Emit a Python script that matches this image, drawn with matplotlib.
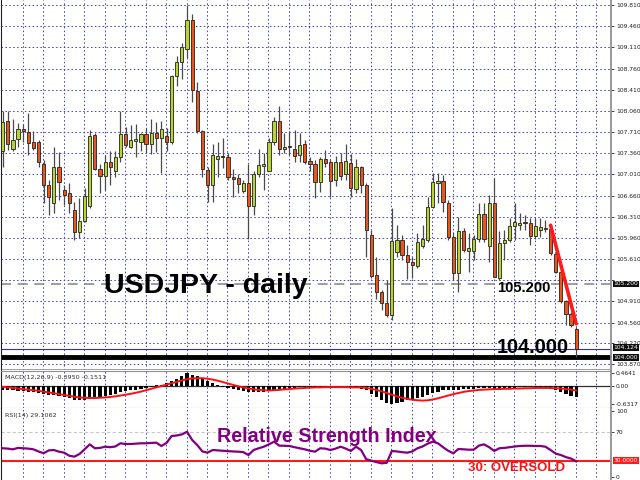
import matplotlib
matplotlib.use("Agg")
import matplotlib.pyplot as plt

plt.rcParams['font.family'] = ['Liberation Sans', 'DejaVu Sans']

# USDJPY daily candles, oldest -> newest
opens = [107.39, 107.89, 107.43, 107.59, 107.76, 107.71, 107.54, 107.55, 107.18, 106.84,
         106.53, 107.13, 106.76, 106.70, 106.43, 106.06, 106.24, 106.48, 107.66, 107.10,
         106.99, 107.22, 107.06, 107.30, 107.67, 107.47, 107.57, 107.55, 107.67, 107.51,
         107.69, 107.61, 107.65, 107.55, 108.64, 108.86, 109.08, 109.56, 108.39, 107.72,
         107.08, 106.84, 107.26, 107.30, 107.29, 106.97, 106.95, 106.74, 106.87, 106.48,
         107.01, 107.15, 107.07, 107.54, 107.89, 107.43, 107.47, 107.43, 107.33, 107.51,
         107.23, 107.18, 106.88, 107.26, 107.22, 106.92, 107.21, 107.02, 107.20, 106.77,
         107.13, 106.84, 106.01, 105.34, 105.06, 104.89, 104.68, 105.73, 105.93, 105.68,
         105.56, 105.50, 105.83, 105.92, 106.47, 106.86, 106.90, 106.53, 105.97, 105.38,
         106.08, 105.74, 105.74, 105.94, 106.36, 105.82, 106.53, 105.29, 105.87, 105.93,
         106.16, 106.17, 106.22, 106.21, 106.00, 106.09, 106.12, 106.10, 105.69, 105.40,
         104.91, 104.70, 104.45]
highs = [108.05, 108.06, 107.93, 107.86, 107.84, 108.03, 107.73, 107.58, 107.25, 106.92,
         107.47, 107.38, 106.84, 106.86, 106.56, 106.62, 106.79, 107.74, 107.69, 107.18,
         107.33, 107.40, 107.39, 108.06, 107.80, 107.82, 107.84, 107.70, 107.77, 107.92,
         107.87, 107.90, 107.77, 108.65, 108.96, 109.18, 109.81, 109.66, 108.54, 107.74,
         107.14, 107.52, 107.55, 107.61, 107.36, 107.10, 107.02, 106.92, 107.19, 107.06,
         107.43, 107.36, 107.61, 107.96, 108.14, 107.69, 107.72, 107.74, 107.69, 107.58,
         107.30, 107.25, 107.30, 107.41, 107.26, 107.31, 107.36, 107.51, 107.34, 107.26,
         107.15, 106.86, 106.09, 105.65, 105.10, 105.27, 106.45, 106.17, 106.01, 105.84,
         105.65, 106.04, 106.17, 106.64, 107.03, 107.03, 107.00, 106.59, 106.06, 106.31,
         106.12, 106.04, 106.01, 106.53, 106.53, 106.67, 106.95, 106.08, 106.09, 106.29,
         106.53, 106.37, 106.34, 106.29, 106.29, 106.29, 106.26, 106.17, 105.71, 105.43,
         104.93, 104.74, 104.49]
lows = [107.14, 107.41, 107.39, 107.47, 107.55, 107.33, 107.41, 107.14, 106.53, 106.34,
        106.38, 106.59, 106.51, 106.38, 105.93, 105.96, 106.23, 106.45, 107.08, 106.71,
        106.75, 106.84, 106.97, 107.22, 107.47, 107.44, 107.29, 107.39, 107.36, 107.35,
        107.38, 107.04, 107.39, 107.52, 108.47, 108.59, 108.93, 108.21, 107.69, 106.97,
        106.56, 106.56, 106.97, 107.11, 106.92, 106.64, 106.70, 106.70, 105.95, 106.34,
        106.96, 106.76, 107.06, 107.49, 107.33, 107.36, 107.33, 107.22, 107.22, 107.19,
        107.06, 106.62, 106.72, 107.14, 106.64, 106.82, 106.92, 106.92, 106.64, 106.70,
        106.70, 105.65, 105.30, 104.95, 104.77, 104.66, 104.60, 105.65, 105.60, 105.28,
        105.29, 105.46, 105.79, 105.90, 106.45, 106.53, 106.39, 105.93, 105.27, 105.07,
        105.73, 105.40, 105.60, 105.90, 105.90, 105.57, 105.31, 105.27, 105.60, 105.90,
        105.93, 106.09, 106.09, 105.84, 105.95, 105.98, 106.06, 105.68, 105.38, 104.88,
        104.52, 104.49, 104.00]
closes = [107.88, 107.52, 107.58, 107.76, 107.72, 107.53, 107.45, 107.21, 106.84, 106.63,
          107.13, 106.89, 106.67, 106.53, 106.06, 106.24, 106.65, 107.65, 107.10, 106.99,
          107.22, 107.14, 107.30, 107.67, 107.49, 107.58, 107.59, 107.67, 107.51, 107.69,
          107.61, 107.76, 107.55, 108.64, 108.86, 109.11, 109.56, 108.41, 107.72, 107.10,
          106.84, 107.33, 107.31, 107.29, 106.97, 106.94, 106.85, 106.87, 106.48, 107.01,
          107.16, 107.19, 107.54, 107.89, 107.43, 107.47, 107.46, 107.31, 107.50, 107.22,
          107.18, 106.88, 107.27, 107.20, 106.90, 107.22, 106.99, 107.23, 106.78, 107.13,
          106.84, 106.09, 105.33, 105.06, 104.88, 104.69, 105.91, 105.93, 105.68, 105.57,
          105.51, 105.89, 105.94, 106.47, 106.88, 106.90, 106.55, 105.97, 105.38, 106.07,
          105.76, 105.79, 105.94, 106.36, 105.94, 106.53, 105.32, 105.87, 105.93, 106.16,
          106.22, 106.21, 106.20, 106.00, 106.15, 106.14, 106.10, 105.71, 105.40, 104.91,
          104.70, 104.52, 104.124]

# MACD(12,26,9): main (histogram) and signal
macd_main = [-0.12, -0.13, -0.15, -0.16, -0.17, -0.19, -0.22, -0.25, -0.28, -0.31,
             -0.32, -0.34, -0.37, -0.42, -0.48, -0.50, -0.48, -0.44, -0.40, -0.37,
             -0.34, -0.32, -0.27, -0.22, -0.18, -0.15, -0.12, -0.09, -0.06, -0.03,
             0.03, 0.06, 0.10, 0.18, 0.26, 0.36, 0.46, 0.42, 0.36, 0.28,
             0.18, 0.10, 0.04, -0.02, -0.07, -0.11, -0.14, -0.17, -0.21, -0.22,
             -0.22, -0.20, -0.17, -0.12, -0.10, -0.08, -0.06, -0.05, -0.04, -0.04,
             -0.03, -0.04, -0.03, -0.02, -0.03, -0.03, -0.04, -0.04, -0.05, -0.06,
             -0.08, -0.15, -0.26, -0.38, -0.50, -0.60, -0.63, -0.58, -0.55, -0.50,
             -0.46, -0.42, -0.37, -0.31, -0.24, -0.19, -0.15, -0.13, -0.14, -0.12,
             -0.11, -0.10, -0.09, -0.07, -0.07, -0.06, -0.08, -0.08, -0.08, -0.06,
             -0.05, -0.04, -0.04, -0.04, -0.04, -0.04, -0.05, -0.08, -0.13, -0.21,
             -0.28, -0.33, -0.395]
macd_signal = [-0.02, -0.04, -0.06, -0.08, -0.10, -0.12, -0.14, -0.16, -0.19, -0.22,
               -0.25, -0.28, -0.31, -0.34, -0.37, -0.40, -0.41, -0.42, -0.42, -0.41,
               -0.40, -0.38, -0.36, -0.33, -0.30, -0.27, -0.23, -0.19, -0.14, -0.09,
               -0.04, 0.01, 0.06, 0.11, 0.16, 0.21, 0.25, 0.28, 0.29, 0.29,
               0.27, 0.24, 0.20, 0.15, 0.10, 0.05, 0.00, -0.04, -0.08, -0.11,
               -0.13, -0.14, -0.15, -0.14, -0.13, -0.11, -0.10, -0.08, -0.07, -0.06,
               -0.05, -0.04, -0.04, -0.03, -0.03, -0.03, -0.03, -0.03, -0.04, -0.04,
               -0.04, -0.06, -0.09, -0.13, -0.18, -0.24, -0.30, -0.36, -0.41, -0.45,
               -0.48, -0.50, -0.51, -0.50, -0.47, -0.43, -0.38, -0.33, -0.28, -0.24,
               -0.20, -0.17, -0.15, -0.13, -0.12, -0.11, -0.10, -0.10, -0.09, -0.09,
               -0.08, -0.08, -0.07, -0.07, -0.06, -0.06, -0.06, -0.06, -0.07, -0.08,
               -0.10, -0.12, -0.151]

# RSI(14)
rsi = [47.5, 47, 46, 48, 47.5, 47, 46, 43, 40.5, 44.5,
       45, 42.7, 41.3, 37, 35.7, 39.4, 46, 53, 47.5, 48,
       49.7, 49, 50, 54.5, 53.5, 53.5, 54, 54.5, 54.5, 55,
       55.4, 50.7, 55, 64.8, 65.5, 67, 70.8, 59.2, 52, 43,
       41.3, 45, 44.5, 44, 43.5, 43, 42.7, 42, 38, 45,
       47.5, 49.7, 53, 56.8, 51.2, 51, 50.7, 49, 47.5, 46,
       44, 42.7, 47.5, 47, 45, 47, 49.7, 47, 43.7, 49.7,
       45, 32, 30, 28, 26.3, 27, 43.7, 43, 42, 41.3,
       43, 47.5, 50, 54, 56.8, 54.5, 49, 44, 40.4, 46.5,
       46, 45.5, 45.5, 51.2, 53, 49, 43.7, 47.5, 48, 49,
       50, 50.7, 51, 51, 50.7, 50.7, 49.7, 45, 40, 38,
       35, 33, 29.1062]

price_ticks = [109.810, 109.460, 109.110, 108.760, 108.410, 108.060, 107.710, 107.360,
               107.010, 106.660, 106.310, 105.960, 105.610, 105.260, 104.910, 104.560,
               104.220, 103.870]
support_level = 104.000
resistance_level = 105.200
bid_price = 104.124
trend_x = [107, 112]
trend_y = [106.17, 104.54]

BULL = '#b8d433'
BEAR = '#e8561e'
GRID = '#4646c0'
GRID_LS = (0, (1.6, 2.4))
W, H = 640, 480
n = len(closes)
idx = list(range(n))

fig = plt.figure(figsize=(6.4, 4.8), dpi=100)
fig.patch.set_facecolor('white')


def px_axes(x0, y0, x1, y1):
    return fig.add_axes([x0 / W, 1 - y1 / H, (x1 - x0) / W, (y1 - y0) / H])


ax = px_axes(1, 0, 611, 370)
ax_m = px_axes(1, 371, 611, 408)
ax_r = px_axes(1, 408, 611, 481)

xlim = (-0.33, 118.8)
vgrid = [4 * k - 0.1 for k in range(1, 30)]

for a in (ax, ax_m, ax_r):
    a.set_xlim(*xlim)
    a.set_xticks([])
    for v in vgrid:
        a.axvline(v, color=GRID, lw=0.7, ls=GRID_LS, zorder=0)
    for s in ('top', 'bottom'):
        a.spines[s].set_visible(False)
    a.spines['left'].set_color('#202020')
    a.spines['right'].set_color('#909090')
    a.spines['right'].set_linewidth(1.3)
    a.yaxis.tick_right()
    a.tick_params(axis='y', length=2, width=0.6, pad=1.5, labelsize=4.3,
                  colors='#202020')

# ---- main price panel ----
ax.set_ylim(103.777, 109.893)
ax.set_yticks(price_ticks)
# the 105.260 label is hidden behind the 105.200 level marker, as in MT4
ax.set_yticklabels(['' if abs(t - 105.26) < 1e-6 else f'{t:.3f}' for t in price_ticks])
for t in price_ticks:
    ax.axhline(t, color=GRID, lw=0.7, ls=GRID_LS, zorder=0)
ax.axhline(resistance_level, color='#8c8c8c', lw=1.2, ls=(0, (6, 4)), zorder=1)
ax.axhline(bid_price, color='#3030a0', lw=0.8, zorder=1)
ax.axhline(support_level, color='black', lw=3.5, zorder=1)
ax.plot([xlim[0], xlim[1]], [103.78, 103.78], color='#909090', lw=1.2, zorder=1)

wick_lo = [min(o, c) for o, c in zip(opens, closes)]
wick_hi = [max(o, c) for o, c in zip(opens, closes)]
ax.vlines(idx, lows, wick_lo, color='#4a4a4a', lw=0.9, zorder=2)
ax.vlines(idx, wick_hi, highs, color='#4a4a4a', lw=0.9, zorder=2)
body_h = [max(abs(c - o), 0.02) for o, c in zip(opens, closes)]
colors = [BULL if c >= o else BEAR for o, c in zip(opens, closes)]
ax.bar(idx, body_h, bottom=wick_lo, width=0.62, color=colors,
       edgecolor='#202020', linewidth=0.6, zorder=3)

ax.plot(trend_x, trend_y, color='#ff1a1a', lw=2.6, solid_capstyle='round', zorder=4)

tr = ax.get_yaxis_transform()
box = dict(boxstyle='square,pad=0.15', fc='#101010', ec='none')
ax.text(1.004, resistance_level, '105.200', transform=tr, fontsize=4.3, color='white',
        va='center', ha='left', bbox=box, clip_on=False, family='DejaVu Sans')
ax.text(1.004, bid_price + 0.02, '104.124', transform=tr, fontsize=4.3, color='white',
        va='center', ha='left', bbox=box, clip_on=False, family='DejaVu Sans')
ax.text(1.004, support_level - 0.02, '104.000', transform=tr, fontsize=4.3, color='white',
        va='center', ha='left', bbox=box, clip_on=False, family='DejaVu Sans')
for lab in ax.get_yticklabels():
    lab.set_family('DejaVu Sans')

fig.text(104 / W, 1 - 286 / H, 'USDJPY - daily', fontsize=20.5, fontweight='bold',
         va='center', ha='left', color='black')
fig.text(497 / W, 1 - 288.5 / H, '105.200', fontsize=10.6, fontweight='bold',
         va='center', ha='left', color='black')
fig.text(497 / W, 1 - 347.5 / H, '104.000', fontsize=14.3, fontweight='bold',
         va='center', ha='left', color='black', zorder=5)

# ---- MACD panel ----
ax_m.set_ylim(-0.775, 0.546)
ax_m.axhline(0, color='#303030', lw=0.9, zorder=1)
ax_m.bar(idx, macd_main, width=0.62, color='black', zorder=2)
ax_m.plot(idx, macd_signal, color='#ff1010', lw=1.4, zorder=3)
ax_m.set_yticks([0.4641, 0.0, -0.6317])
ax_m.set_yticklabels(['0.4641', '0.00', '-0.6317'], family='DejaVu Sans')
ax_m.spines['top'].set_visible(True)
ax_m.spines['top'].set_color('#909090')
ax_m.spines['bottom'].set_visible(True)
ax_m.spines['bottom'].set_color('#707070')
ax_m.text(0.006, 0.9, 'MACD(12,26,9) -0.3950 -0.1511', transform=ax_m.transAxes,
          fontsize=4.6, color='#303030', va='top', ha='left', family='DejaVu Sans')

# ---- RSI panel ----
ax_r.set_ylim(1.4, 104.2)
ax_r.axhline(70, color='#c8c8c8', lw=0.8, ls=(0, (3, 2)), zorder=1)
ax_r.axhline(30, color='#ff1a1a', lw=1.5, zorder=1)
ax_r.plot(idx, rsi, color='#800080', lw=1.6, zorder=3)
ax_r.set_yticks([100, 70, 6.5])
ax_r.set_yticklabels(['100', '70', '0'], family='DejaVu Sans')
ax_r.text(1.004, 30, '30.0000', transform=ax_r.get_yaxis_transform(), fontsize=4.3,
          color='white', va='center', ha='left', clip_on=False, family='DejaVu Sans',
          bbox=dict(boxstyle='square,pad=0.15', fc='#ff1a1a', ec='none'))
ax_r.text(0.006, 0.93, 'RSI(14) 29.1062', transform=ax_r.transAxes,
          fontsize=4.6, color='#303030', va='top', ha='left', family='DejaVu Sans')

fig.text(217 / W, 1 - 437 / H, 'Relative Strength Index', fontsize=14.2,
         fontweight='bold', color='#800080', va='center', ha='left')
fig.text(468 / W, 1 - 468 / H, '30: OVERSOLD', fontsize=9.5, fontweight='bold',
         color='#ff1010', va='center', ha='left')

fig.savefig('out.png', dpi=100, facecolor='white')
